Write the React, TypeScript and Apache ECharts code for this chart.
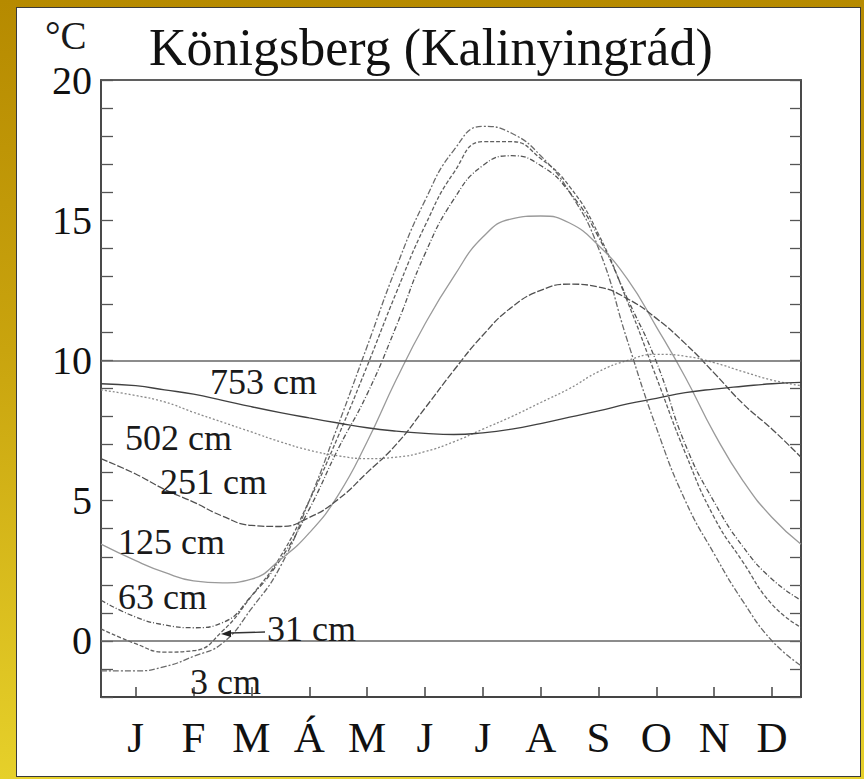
import React, { useEffect, useRef } from "react";
import * as echarts from "echarts";

const TITLE = "Königsberg (Kalinyingrád)";
const UNIT = "°C";
const months = ["J", "F", "M", "Á", "M", "J", "J", "A", "S", "O", "N", "D"];
const monthTicks = [0, 1, 2, 3, 4, 5, 6, 7, 8, 9, 10, 11];
const refLines = [0, 10];

// x positions in months (0 = January tick)
const xs = [-0.6, 0, 0.5, 1, 1.5, 2, 2.5, 3, 3.5, 4, 4.5, 5, 5.5, 6, 6.5, 7, 7.5, 8, 8.5, 9, 9.5, 10, 10.5, 11, 11.5];

const d3 = [-1.07, -1.07, -0.92, -0.55, -0.08, 1.15, 2.65, 5.0, 7.7, 10.5, 13.3, 15.7, 17.5, 18.35, 18.1, 17.3, 16.0, 14.0, 10.7, 7.6, 5.0, 3.1, 1.4, 0.0, -0.88];
const d31 = [0.43, -0.1, -0.4, -0.35, 0.35, 1.6, 3.0, 5.0, 7.3, 9.8, 12.4, 14.8, 16.7, 17.8, 17.8, 17.2, 16.2, 14.5, 12.1, 9.4, 6.7, 4.4, 2.8, 1.3, 0.48];
const d63 = [1.45, 0.85, 0.57, 0.47, 0.65, 1.6, 2.9, 4.7, 6.85, 8.8, 11.2, 13.8, 15.75, 16.95, 17.3, 16.95, 16.0, 14.4, 12.2, 9.95, 7.0, 4.95, 3.35, 2.2, 1.45];
const d125 = [3.45, 2.86, 2.44, 2.14, 2.07, 2.2, 2.9, 3.85, 5.2, 7.1, 9.3, 11.3, 13.0, 14.4, 15.05, 15.15, 14.9, 14.1, 12.9, 11.2, 9.4, 7.4, 5.7, 4.4, 3.45];
const d251 = [6.5, 5.95, 5.4, 4.95, 4.45, 4.12, 4.08, 4.4, 5.05, 6.0, 7.0, 8.3, 9.65, 10.9, 11.9, 12.5, 12.72, 12.62, 12.2, 11.5, 10.6, 9.55, 8.45, 7.55, 6.55];
const d502 = [8.95, 8.75, 8.52, 8.15, 7.8, 7.45, 7.1, 6.8, 6.6, 6.5, 6.55, 6.75, 7.1, 7.55, 8.0, 8.5, 9.0, 9.6, 10.0, 10.22, 10.15, 9.92, 9.6, 9.3, 9.1];
const d753 = [9.17, 9.1, 8.95, 8.8, 8.58, 8.35, 8.14, 7.95, 7.77, 7.6, 7.48, 7.4, 7.36, 7.42, 7.55, 7.75, 7.98, 8.2, 8.45, 8.65, 8.85, 8.98, 9.08, 9.17, 9.22];

const depthNames = ["3 cm", "31 cm", "63 cm", "125 cm", "251 cm", "502 cm", "753 cm"];
const depthValues = [d3, d31, d63, d125, d251, d502, d753];

const FONT = "'Liberation Serif', 'Times New Roman', serif";

const lineStyles: any[] = [
  { color: "#6a6a6a", width: 1.3, type: [6, 2, 2, 2] },
  { color: "#606060", width: 1.3, type: [4, 2] },
  { color: "#555555", width: 1.3, type: [5, 2, 1, 2] },
  { color: "#9a9a9a", width: 1.3, type: "solid" },
  { color: "#505050", width: 1.3, type: [7, 2] },
  { color: "#8a8a8a", width: 1.3, type: [2, 2] },
  { color: "#404040", width: 1.3, type: "solid" },
];

// label placements (layout only)
const labelPos: [number, number][] = [
  [190, 682],
  [267, 629],
  [118, 597],
  [118, 542],
  [160, 482],
  [125, 438],
  [210, 382],
];

export default function App() {
  const ref = useRef<HTMLDivElement>(null);

  useEffect(() => {
    if (!ref.current) return;
    const chart = echarts.init(ref.current, null, { renderer: "svg" });

    const series: any[] = depthValues.map((vals, i) => ({
      name: depthNames[i],
      type: "line",
      data: xs.map((x, j) => [x, vals[j]]),
      smooth: 0.5,
      showSymbol: false,
      symbol: "none",
      silent: true,
      lineStyle: lineStyles[i],
      z: 3,
    }));
    series[0].markLine = {
      silent: true,
      symbol: "none",
      label: { show: false },
      lineStyle: { color: "#666", width: 1.6, type: "solid" },
      data: refLines.map((v) => ({ yAxis: v })),
    };

    const graphics: any[] = depthNames.map((n, i) => ({
      type: "text",
      x: labelPos[i][0],
      y: labelPos[i][1],
      style: {
        text: n,
        font: `36px ${FONT}`,
        fill: "#1a1a1a",
        textVerticalAlign: "middle",
      },
      z: 10,
    }));
    graphics.push({
      type: "line",
      shape: { x1: 230, y1: 633, x2: 265, y2: 632 },
      style: { stroke: "#333", lineWidth: 1.3 },
      z: 10,
    });
    graphics.push({
      type: "polygon",
      shape: { points: [[221, 634], [231, 630], [231, 637]] },
      style: { fill: "#222" },
      z: 10,
    });
    graphics.push({
      type: "text",
      x: 45,
      y: 35,
      style: {
        text: UNIT,
        font: `39px ${FONT}`,
        fill: "#1a1a1a",
        textVerticalAlign: "middle",
      },
    });

    const option: any = {
      animation: false,
      backgroundColor: "transparent",
      title: {
        text: TITLE,
        left: 144,
        top: 16,
        textStyle: { fontFamily: FONT, fontSize: 52, fontWeight: "normal", color: "#111" },
      },
      grid: {
        left: 101,
        top: 80,
        right: 63,
        bottom: 82,
        show: true,
        borderColor: "#555",
        borderWidth: 1.5,
        backgroundColor: "transparent",
      },
      xAxis: [
        {
          type: "value",
          min: -0.6,
          max: 11.5,
          position: "bottom",
          axisLine: { show: true, onZero: false, lineStyle: { color: "#444", width: 2.2 } },
          axisTick: { show: true, inside: true, length: 10, customValues: monthTicks, lineStyle: { color: "#444", width: 1.5 } },
          axisLabel: {
            customValues: monthTicks,
            formatter: (v: number) => months[Math.round(v)] ?? "",
            fontFamily: FONT,
            fontSize: 43,
            color: "#111",
            margin: 19,
          },
          splitLine: { show: false },
        },
        {
          type: "value",
          min: -0.6,
          max: 11.5,
          position: "top",
          axisLine: { show: true, onZero: false, lineStyle: { color: "#555", width: 1.5 } },
          axisTick: { show: false },
          axisLabel: { show: false },
          splitLine: { show: false },
        },
      ],
      yAxis: [
        {
          type: "value",
          min: -2,
          max: 20,
          interval: 1,
          position: "left",
          axisLine: { show: true, onZero: false, lineStyle: { color: "#444", width: 1.8 } },
          axisTick: { show: true, inside: true, length: 12, lineStyle: { color: "#555", width: 1.3 } },
          axisLabel: {
            formatter: (v: number) => (v >= 0 && v % 5 === 0 ? String(v) : ""),
            fontFamily: FONT,
            fontSize: 40,
            color: "#111",
            margin: 9,
          },
          splitLine: { show: false },
        },
        {
          type: "value",
          min: -2,
          max: 20,
          interval: 1,
          position: "right",
          axisLine: { show: true, onZero: false, lineStyle: { color: "#444", width: 1.8 } },
          axisTick: { show: true, inside: true, length: 11, lineStyle: { color: "#555", width: 1.3 } },
          axisLabel: { show: false },
          splitLine: { show: false },
        },
      ],
      series,
      graphic: graphics,
    };

    chart.setOption(option);
    return () => chart.dispose();
  }, []);

  return (
    <div
      style={{
        position: "fixed",
        left: 0,
        top: 0,
        width: 864,
        height: 779,
        background: "linear-gradient(to bottom, #b68a00 0%, #c9a40e 45%, #e6d02a 100%)",
        overflow: "hidden",
      }}
    >
      <div
        style={{
          position: "absolute",
          left: 16,
          top: 7,
          width: 845,
          height: 770,
          background: "#ffffff",
          border: "1px solid #3a3a3a",
          boxSizing: "border-box",
        }}
      />
      <div ref={ref} style={{ position: "absolute", left: 0, top: 0, width: 864, height: 779 }} />
    </div>
  );
}
